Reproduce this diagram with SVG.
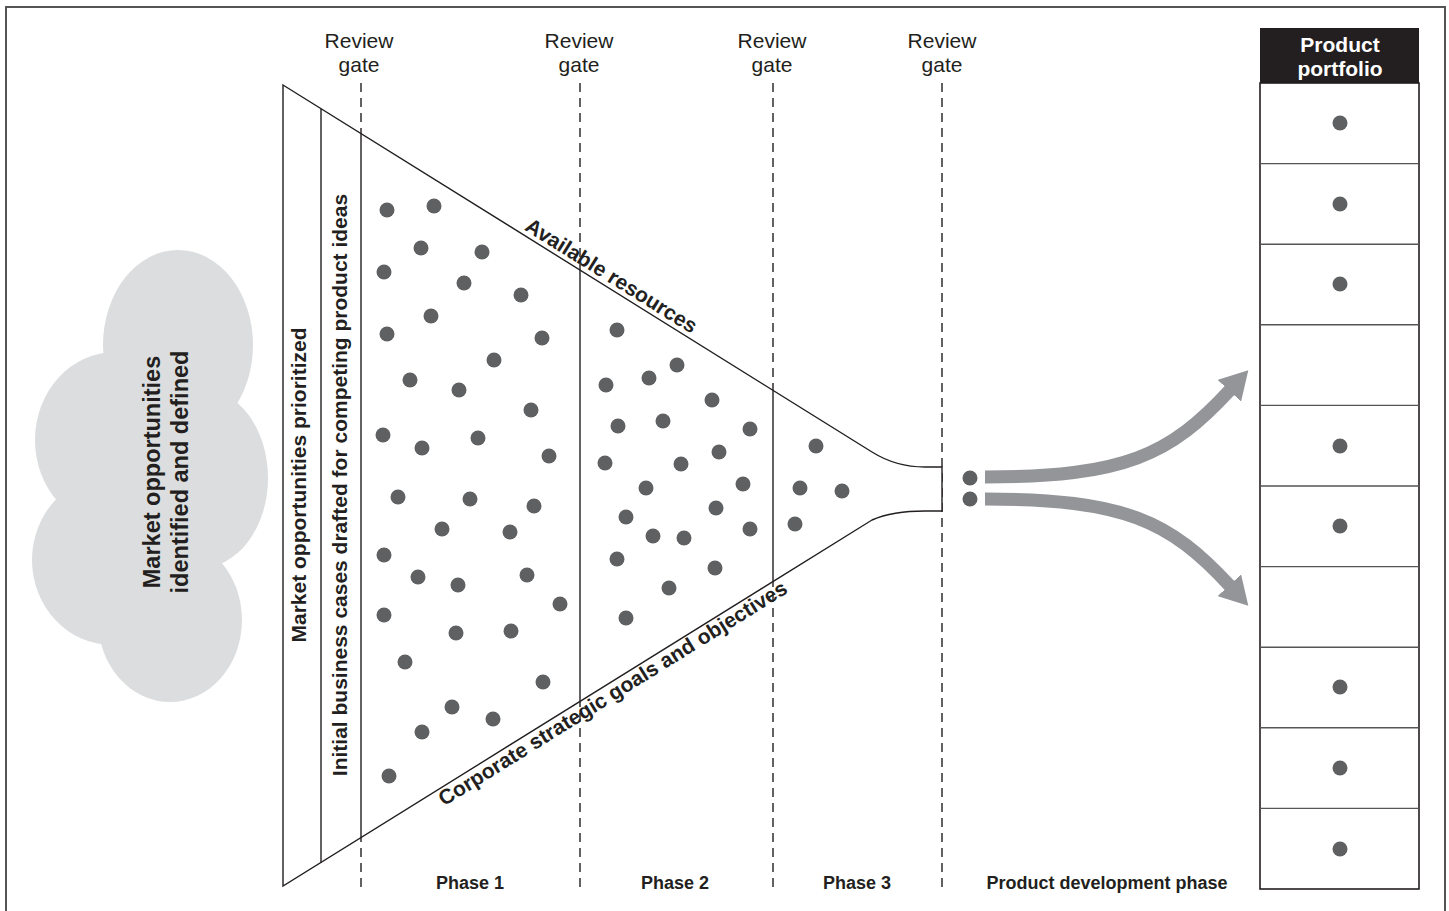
<svg xmlns="http://www.w3.org/2000/svg" width="1449" height="911" viewBox="0 0 1449 911">
<style>
text{font-family:"Liberation Sans",Arial,sans-serif;fill:#231f20}
.b{font-weight:bold}
.rv{font-size:21px;text-anchor:middle}
.ph{font-size:18px;font-weight:bold;text-anchor:middle}
.lbl{font-size:21px;font-weight:bold;text-anchor:middle}
.ln{fill:none;stroke:#231f20;stroke-width:1.4}
.dash{fill:none;stroke:#231f20;stroke-width:1.4;stroke-dasharray:9 6}
.dot{fill:#5f6062}
.arr{fill:none;stroke:#939598;stroke-width:13}
.cl{fill:#dcddde}
</style>
<defs>
<marker id="ah" viewBox="0 0 28 32" refX="1" refY="16" markerWidth="28" markerHeight="32" markerUnits="userSpaceOnUse" orient="auto">
<path d="M0,0 L28,16 L0,32 Z" fill="#939598"/>
</marker>
</defs>
<rect width="1449" height="911" fill="#ffffff"/>
<path d="M6,915 L6,7 L1445,7 L1445,915" fill="none" stroke="#555" stroke-width="2"/>

<g id="cloud">
<ellipse class="cl" cx="178" cy="345" rx="75" ry="95"/>
<ellipse class="cl" cx="115" cy="440" rx="80" ry="88"/>
<ellipse class="cl" cx="200" cy="478" rx="68" ry="90"/>
<ellipse class="cl" cx="112" cy="560" rx="80" ry="85"/>
<ellipse class="cl" cx="170" cy="620" rx="72" ry="82"/>
<ellipse class="cl" cx="160" cy="500" rx="70" ry="120"/>
<text class="lbl" style="font-size:23.5px" transform="translate(160,472) rotate(-90)">Market opportunities</text>
<text class="lbl" style="font-size:23.5px" transform="translate(188,472) rotate(-90)">identified and defined</text>
</g>

<g id="gates">
<line class="dash" x1="361" y1="83" x2="361" y2="890"/>
<line class="dash" x1="580" y1="83" x2="580" y2="890"/>
<line class="dash" x1="773" y1="83" x2="773" y2="890"/>
<line class="dash" x1="942" y1="83" x2="942" y2="890"/>
<text class="rv" x="359" y="48">Review</text><text class="rv" x="359" y="72">gate</text>
<text class="rv" x="579" y="48">Review</text><text class="rv" x="579" y="72">gate</text>
<text class="rv" x="772" y="48">Review</text><text class="rv" x="772" y="72">gate</text>
<text class="rv" x="942" y="48">Review</text><text class="rv" x="942" y="72">gate</text>
</g>

<g id="funnel">
<path class="ln" style="fill:#fff" d="M283,85 L872,452 C888,462 905,467 925,467 L942,467 L942,511 L925,511 C905,511 888,513 872,520 L283,886 Z"/>
<line class="ln" x1="321" y1="108.7" x2="321" y2="862.4"/>
<line class="ln" x1="361" y1="133.6" x2="361" y2="837.5"/>
<line class="ln" x1="580" y1="270" x2="580" y2="701.4"/>
<line class="ln" x1="773" y1="390.3" x2="773" y2="581.5"/>
<text class="lbl" transform="translate(306,485) rotate(-90)">Market opportunities prioritized</text>
<text class="lbl" transform="translate(347,485) rotate(-90)">Initial business cases drafted for competing product ideas</text>
<text class="lbl" transform="translate(605,286) rotate(31.9)" y="-5">Available resources</text>
<text class="lbl" transform="translate(607,684) rotate(-31.9)" y="18">Corporate strategic goals and objectives</text>
</g>

<g id="phase1-ideas">
<circle class="dot" cx="387" cy="210" r="7.5"/><circle class="dot" cx="434" cy="206" r="7.5"/>
<circle class="dot" cx="421" cy="248" r="7.5"/><circle class="dot" cx="482" cy="252" r="7.5"/>
<circle class="dot" cx="384" cy="272" r="7.5"/><circle class="dot" cx="464" cy="283" r="7.5"/>
<circle class="dot" cx="521" cy="295" r="7.5"/><circle class="dot" cx="431" cy="316" r="7.5"/>
<circle class="dot" cx="387" cy="334" r="7.5"/><circle class="dot" cx="542" cy="338" r="7.5"/>
<circle class="dot" cx="494" cy="360" r="7.5"/><circle class="dot" cx="410" cy="380" r="7.5"/>
<circle class="dot" cx="459" cy="390" r="7.5"/><circle class="dot" cx="531" cy="410" r="7.5"/>
<circle class="dot" cx="383" cy="435" r="7.5"/><circle class="dot" cx="422" cy="448" r="7.5"/>
<circle class="dot" cx="478" cy="438" r="7.5"/><circle class="dot" cx="549" cy="456" r="7.5"/>
<circle class="dot" cx="398" cy="497" r="7.5"/><circle class="dot" cx="470" cy="499" r="7.5"/>
<circle class="dot" cx="534" cy="506" r="7.5"/><circle class="dot" cx="442" cy="529" r="7.5"/>
<circle class="dot" cx="510" cy="532" r="7.5"/><circle class="dot" cx="384" cy="555" r="7.5"/>
<circle class="dot" cx="418" cy="577" r="7.5"/><circle class="dot" cx="458" cy="585" r="7.5"/>
<circle class="dot" cx="527" cy="575" r="7.5"/><circle class="dot" cx="560" cy="604" r="7.5"/>
<circle class="dot" cx="384" cy="615" r="7.5"/><circle class="dot" cx="456" cy="633" r="7.5"/>
<circle class="dot" cx="511" cy="631" r="7.5"/><circle class="dot" cx="405" cy="662" r="7.5"/>
<circle class="dot" cx="543" cy="682" r="7.5"/><circle class="dot" cx="452" cy="707" r="7.5"/>
<circle class="dot" cx="493" cy="719" r="7.5"/><circle class="dot" cx="422" cy="732" r="7.5"/>
<circle class="dot" cx="389" cy="776" r="7.5"/>
</g>

<g id="phase2-ideas">
<circle class="dot" cx="617" cy="330" r="7.5"/><circle class="dot" cx="677" cy="365" r="7.5"/>
<circle class="dot" cx="649" cy="378" r="7.5"/><circle class="dot" cx="606" cy="385" r="7.5"/>
<circle class="dot" cx="712" cy="400" r="7.5"/><circle class="dot" cx="618" cy="426" r="7.5"/>
<circle class="dot" cx="663" cy="421" r="7.5"/><circle class="dot" cx="750" cy="429" r="7.5"/>
<circle class="dot" cx="605" cy="463" r="7.5"/><circle class="dot" cx="681" cy="464" r="7.5"/>
<circle class="dot" cx="719" cy="452" r="7.5"/><circle class="dot" cx="646" cy="488" r="7.5"/>
<circle class="dot" cx="743" cy="484" r="7.5"/><circle class="dot" cx="626" cy="517" r="7.5"/>
<circle class="dot" cx="716" cy="508" r="7.5"/><circle class="dot" cx="653" cy="536" r="7.5"/>
<circle class="dot" cx="684" cy="538" r="7.5"/><circle class="dot" cx="750" cy="529" r="7.5"/>
<circle class="dot" cx="617" cy="559" r="7.5"/><circle class="dot" cx="715" cy="568" r="7.5"/>
<circle class="dot" cx="669" cy="588" r="7.5"/><circle class="dot" cx="626" cy="618" r="7.5"/>
</g>

<g id="phase3-ideas">
<circle class="dot" cx="816" cy="446" r="7.5"/><circle class="dot" cx="800" cy="488" r="7.5"/>
<circle class="dot" cx="842" cy="491" r="7.5"/><circle class="dot" cx="795" cy="524" r="7.5"/>
</g>

<g id="development-ideas">
<circle class="dot" cx="970" cy="478" r="7.5"/><circle class="dot" cx="970" cy="499" r="7.5"/>
</g>

<g id="phase-labels">
<text class="ph" x="470" y="889">Phase 1</text>
<text class="ph" x="675" y="889">Phase 2</text>
<text class="ph" x="857" y="889">Phase 3</text>
<text class="ph" x="1107" y="889">Product development phase</text>
</g>

<g id="portfolio">
<rect x="1260" y="28" width="159" height="55" fill="#231f20"/>
<text class="lbl" style="fill:#fff" x="1340" y="52">Product</text>
<text class="lbl" style="fill:#fff" x="1340" y="76">portfolio</text>
<rect x="1260" y="83" width="159" height="806" fill="none" stroke="#231f20" stroke-width="1.6"/>
<g stroke="#555" stroke-width="1.4">
<line x1="1260" y1="163.6" x2="1419" y2="163.6"/>
<line x1="1260" y1="244.2" x2="1419" y2="244.2"/>
<line x1="1260" y1="324.8" x2="1419" y2="324.8"/>
<line x1="1260" y1="405.4" x2="1419" y2="405.4"/>
<line x1="1260" y1="486" x2="1419" y2="486"/>
<line x1="1260" y1="566.6" x2="1419" y2="566.6"/>
<line x1="1260" y1="647.2" x2="1419" y2="647.2"/>
<line x1="1260" y1="727.8" x2="1419" y2="727.8"/>
<line x1="1260" y1="808.4" x2="1419" y2="808.4"/>
</g>
<circle class="dot" cx="1340" cy="123" r="7.5"/>
<circle class="dot" cx="1340" cy="204" r="7.5"/>
<circle class="dot" cx="1340" cy="284" r="7.5"/>
<circle class="dot" cx="1340" cy="446" r="7.5"/>
<circle class="dot" cx="1340" cy="526" r="7.5"/>
<circle class="dot" cx="1340" cy="687" r="7.5"/>
<circle class="dot" cx="1340" cy="768" r="7.5"/>
<circle class="dot" cx="1340" cy="849" r="7.5"/>
</g>

<g id="connectors">
<path class="arr" marker-end="url(#ah)" d="M985,477 C1125,477 1170,455 1230,390"/>
<path class="arr" marker-end="url(#ah)" d="M985,499 C1125,499 1170,521 1230,586"/>
</g>
</svg>
